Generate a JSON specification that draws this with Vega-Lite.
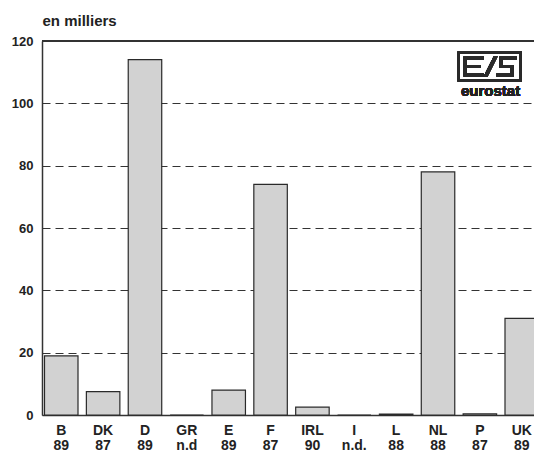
{
  "$schema": "https://vega.github.io/schema/vega-lite/v6.json",
  "width": 492,
  "height": 374,
  "autosize": {"type": "none"},
  "padding": {"left": 42, "top": 41, "right": 0, "bottom": 37},
  "background": "white",
  "config": {"view": {"stroke": null}, "font": "Liberation Sans"},
  "data": {
    "values": [
      {"code": "B|89", "valeur": 19},
      {"code": "DK|87", "valeur": 7.5},
      {"code": "D|89", "valeur": 114},
      {"code": "GR|n.d", "valeur": 0},
      {"code": "E|89", "valeur": 8},
      {"code": "F|87", "valeur": 74},
      {"code": "IRL|90", "valeur": 2.5},
      {"code": "I|n.d.", "valeur": 0},
      {"code": "L|88", "valeur": 0.3},
      {"code": "NL|88", "valeur": 78},
      {"code": "P|87", "valeur": 0.4},
      {"code": "UK|89", "valeur": 31}
    ]
  },
  "layer": [
    {
      "mark": {"type": "bar", "fill": "#d2d2d2", "stroke": "#2a2a2a", "strokeWidth": 1.2},
      "encoding": {
        "x": {
          "field": "code", "type": "nominal", "sort": null,
          "scale": {
            "domain": ["B|89", "DK|87", "D|89", "GR|n.d", "E|89", "F|87", "IRL|90", "I|n.d.", "L|88", "NL|88", "P|87", "UK|89"],
            "range": [0, 499], "paddingInner": 0.2, "paddingOuter": 0.06
          },
          "axis": {
            "title": null, "labelExpr": "split(datum.value, '|')", "labelAngle": 0,
            "labelFontSize": 14, "labelFontWeight": "bold", "labelColor": "#222",
            "labelPadding": 8, "labelBaseline": "top", "labelLineHeight": 15,
            "ticks": false, "domainColor": "#333", "domainWidth": 1.5, "grid": false
          }
        },
        "y": {
          "field": "valeur", "type": "quantitative",
          "scale": {"domain": [0, 120]},
          "axis": {
            "values": [0, 20, 40, 60, 80, 100, 120],
            "title": "en milliers", "titleAngle": 0, "titleX": 0, "titleY": -16,
            "titleAlign": "left", "titleBaseline": "alphabetic",
            "titleFontSize": 15, "titleFontWeight": "bold", "titleColor": "#222",
            "labelFontSize": 13, "labelFontWeight": "bold", "labelColor": "#222",
            "labelPadding": 9, "ticks": false, "domainColor": "#333", "domainWidth": 1.5,
            "grid": true, "gridDash": [8, 5], "gridColor": "#333", "gridWidth": 1
          }
        }
      }
    },
    {
      "mark": {"type": "rule", "color": "#333", "strokeWidth": 1.5},
      "encoding": {"y": {"datum": 120, "type": "quantitative"}}
    },
    {
      "mark": {
        "type": "point", "filled": true, "color": "#2a2a2a", "opacity": 1, "strokeWidth": 0, "size": 4096,
        "shape": "M-1,-0.469H1V0.469H-1Z M-0.9375,-0.406V0.406H0.9375V-0.406Z M-0.8125,-0.3125H-0.1875V-0.21875H-0.71875V-0.047H-0.28125V0.047H-0.71875V0.21875H-0.1875V0.3125H-0.8125Z M-0.1875,0.3125L0.125,-0.3125H0.25L-0.0625,0.3125Z M0.3125,-0.3125H0.84375V-0.21875H0.3125Z M0.3125,-0.21875H0.40625V0.047H0.3125Z M0.3125,-0.047H0.75V0.047H0.3125Z M0.65625,0.047H0.75V0.21875H0.65625Z M0.21875,0.21875H0.75V0.3125H0.21875Z"
      },
      "encoding": {
        "x": {"datum": "P|87", "type": "nominal", "bandPosition": 0.79},
        "y": {"datum": 111.8, "type": "quantitative"}
      }
    },
    {
      "mark": {"type": "text", "text": "eurostat", "fontSize": 15, "fontWeight": "bold", "color": "#222", "align": "center", "baseline": "alphabetic"},
      "encoding": {
        "x": {"datum": "P|87", "type": "nominal", "bandPosition": 0.82},
        "y": {"datum": 102.2, "type": "quantitative"}
      }
    }
  ]
}
